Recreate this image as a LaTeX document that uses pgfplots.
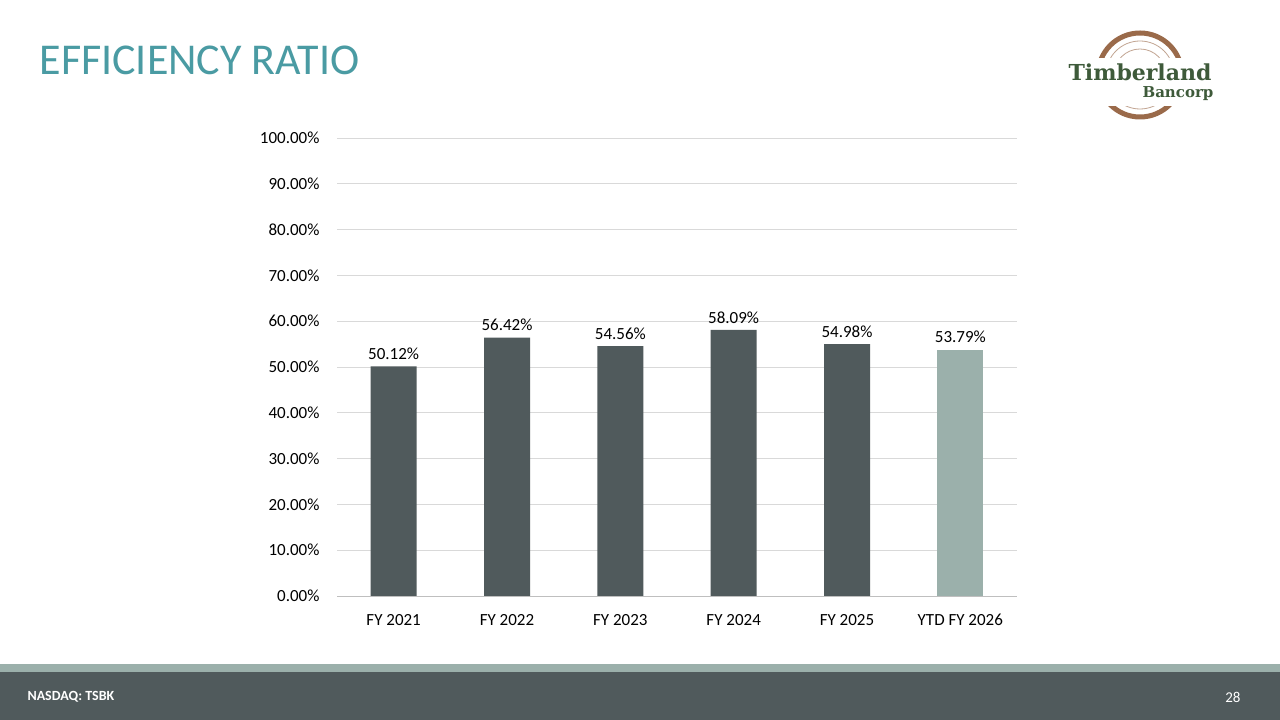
\documentclass[border=0pt]{standalone}
\usepackage{pgfplots}
\pgfplotsset{compat=1.18}
\usepackage{fontspec}
\setmainfont{Carlito}
\newfontfamily\slab{DejaVu Serif}
\definecolor{barD}{HTML}{505A5C}
\definecolor{barL}{HTML}{9BB0AB}
\definecolor{teal}{HTML}{4A9BA3}
\definecolor{grn}{HTML}{3E5A3A}
\definecolor{brn}{HTML}{9A6A4A}
\begin{document}
\begin{tikzpicture}
\begin{scope}[x=1pt,y=1pt]
\fill[white] (0,0) rectangle (1280,720);
\fill[barL] (0,48) rectangle (1280,56);
\fill[barD] (0,0) rectangle (1280,48);
\node[anchor=west,white,font=\fontsize{14}{16}\selectfont\bfseries] at (24,23) {NASDAQ: TSBK};
\node[anchor=east,white,font=\fontsize{15}{17}\selectfont] at (1244,23) {28};
\node[anchor=west,teal,font=\fontsize{44}{48}\selectfont] at (36,660) {EFFICIENCY RATIO};
% logo
\draw[brn,line width=5pt] (1140,645) circle (42);
\draw[brn!60,line width=0.8pt] (1140,645) circle (34);
\draw[brn!60,line width=0.8pt] (1140,645) circle (26);
\fill[white] (1058,614) rectangle (1222,662);
\node[grn,font=\fontsize{22}{24}\selectfont\slab\bfseries] at (1140,648) {Timberland};
\node[grn,font=\fontsize{15}{16}\selectfont\slab\bfseries] at (1178,626) {Bancorp};
\end{scope}
\begin{axis}[at={(337pt,124pt)},anchor=south west,scale only axis,width=680pt,height=458pt,
  xmin=-0.5,xmax=5.5,ymin=0,ymax=100,
  xtick={0,...,5},xticklabels={FY 2021,FY 2022,FY 2023,FY 2024,FY 2025,YTD FY 2026},
  ytick={0,10,...,100},
  yticklabel={\pgfmathprintnumber[fixed,fixed zerofill,precision=2]{\tick}\%},
  /pgf/number format/assume math mode=true,
  ymajorgrids,grid style={color=black!15,line width=0.8pt},
  axis x line*=bottom,axis y line*=left,y axis line style={draw=none},
  x axis line style={black!25,line width=0.8pt},
  major tick length=0pt,
  tick label style={font=\fontsize{17}{19}\selectfont},
  yticklabel style={xshift=-14pt},
  xticklabel style={yshift=-14pt,text depth=0pt,text height=12pt},
  ybar,bar width=46pt,bar shift=0pt,
  nodes near coords={\pgfmathprintnumber[fixed,fixed zerofill,precision=2]{\pgfplotspointmeta}\%},
  nodes near coords style={font=\fontsize{17}{19}\selectfont,black,yshift=3pt,/pgf/number format/assume math mode=true},
  clip=false]
\addplot[fill=barD,draw=none] coordinates {(0,50.12)(1,56.42)(2,54.56)(3,58.09)(4,54.98)};
\addplot[fill=barL,draw=none] coordinates {(5,53.79)};
\end{axis}
\end{tikzpicture}
\end{document}
